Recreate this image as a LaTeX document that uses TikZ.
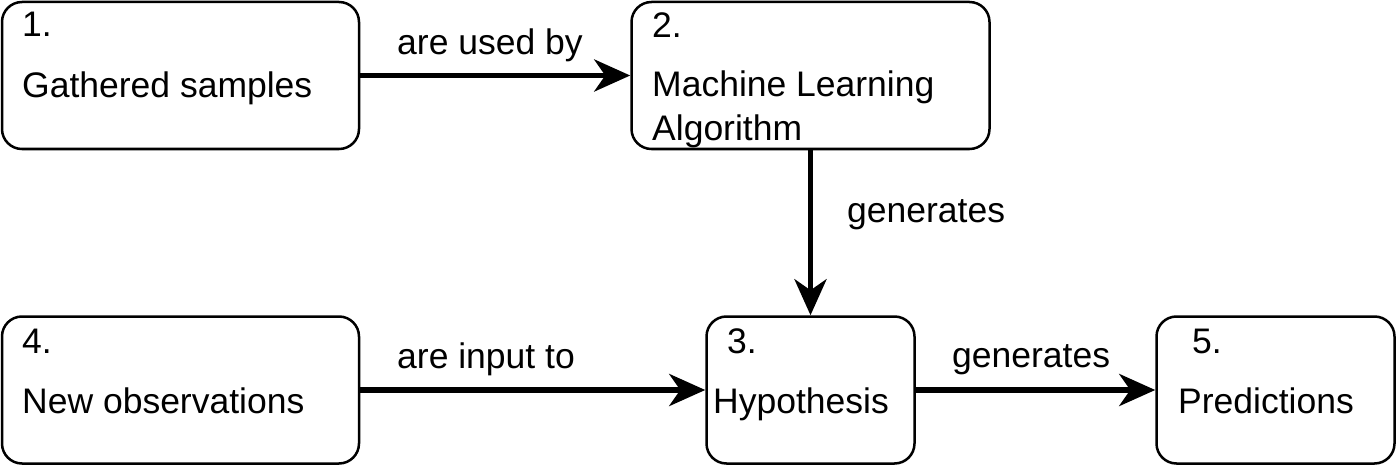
\documentclass[tikz,border=0pt]{standalone}
\usepackage{fontspec}
\setmainfont{Liberation Sans}
\usetikzlibrary{arrows.meta}
\begin{document}
\begin{tikzpicture}[x=1pt,y=-1pt,
  box/.style={draw=black, line width=2.5pt, rounded corners=20pt, minimum height=147pt, inner sep=0pt},
  txt/.style={anchor=base west, inner sep=0pt, font=\fontsize{35.5}{42.6}\selectfont},
  arr/.style={line width=5.5pt, -{Stealth[length=36pt, width=32pt, inset=11pt]}}]
\useasboundingbox (0,0) rectangle (1397,468);
% boxes
\node[box, minimum width=357pt] (b1) at (180.5,75.5) {};
\node[box, minimum width=358pt] (b2) at (810.5,75.5) {};
\node[box, minimum width=208pt] (b3) at (810.5,390) {};
\node[box, minimum width=357pt] (b4) at (180.5,390) {};
\node[box, minimum width=238pt] (b5) at (1275.5,390) {};
% box texts
\node[txt] (t1a) at (22,37) {1.};
\node[txt] (t1b) at (22,98) {Gathered samples};
\node[txt] (t2a) at (652,38) {2.};
\node[txt] (t2b) at (652,97) {Machine Learning};
\node[txt] (t2c) at (652,140) {Algorithm};
\node[txt] (t3a) at (727,353) {3.};
\node[txt] (t3b) at (713,413) {Hypothesis};
\node[txt] (t4a) at (22,353) {4.};
\node[txt] (t4b) at (22,413) {New observations};
\node[txt] (t5a) at (1192,353) {5.};
\node[txt] (t5b) at (1178,413) {Predictions};
% connectors
\draw[arr] (b1) -- (b2);
\draw[arr] (b2) -- (b3);
\draw[arr] (b4) -- (b3);
\draw[arr] (b3) -- (b5);
% labels
\node[txt] (l1) at (397,55) {are used by};
\node[txt] (l2) at (847,222) {generates};
\node[txt] (l3) at (397,368) {are input to};
\node[txt] (l4) at (952,367) {generates};
\end{tikzpicture}
\end{document}
